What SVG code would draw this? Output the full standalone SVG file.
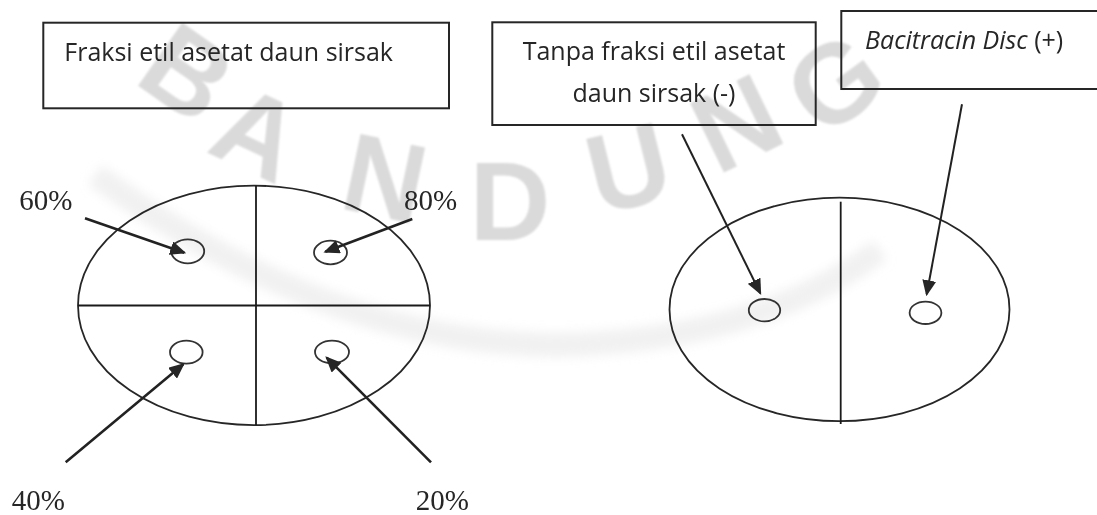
<svg xmlns="http://www.w3.org/2000/svg" width="1097" height="515" viewBox="0 0 1097 515">
  <defs>
    <style>
      .box { fill: none; stroke: #262626; stroke-width: 2; }
      .lbl { font-family: "Open Sans", "Noto Sans", sans-serif; font-size: 25px; fill: #262626; }
      .pct { font-family: "Liberation Serif", "Times New Roman", serif; font-size: 29px; fill: #262626; }
      .dish { fill: none; stroke: #262626; stroke-width: 1.8; }
      .well { fill: none; stroke: #333; stroke-width: 1.8; }
      .div { stroke: #1a1a1a; stroke-width: 1.8; }
      .arr { stroke: #222; stroke-width: 2.6; fill: none; }
      .arr2 { stroke: #222; stroke-width: 2; fill: none; }
      .wm { font-family: "Liberation Sans", Arial, sans-serif; font-size: 112px; font-weight: bold; fill: #dadada; }
    </style>
    <marker id="ah" viewBox="0 0 16 14" refX="14" refY="7" markerWidth="16" markerHeight="14" markerUnits="userSpaceOnUse" orient="auto">
      <path d="M0,0 L16,7 L0,14 z" fill="#262626"/>
    </marker>
    <filter id="blur" x="-20%" y="-20%" width="140%" height="140%">
      <feGaussianBlur stdDeviation="6"/>
    </filter>
    <filter id="soft" x="-10%" y="-10%" width="120%" height="120%">
      <feGaussianBlur stdDeviation="1.2"/>
    </filter>
  </defs>
  <rect width="1097" height="515" fill="#ffffff"/>

  <g id="watermark" filter="url(#soft)">
    <path d="M95,175 Q330,345 560,345 Q760,340 880,250" fill="none" stroke="#dcdcdc" stroke-width="24" opacity="0.4" filter="url(#blur)"/>
    <text class="wm" text-anchor="middle" transform="translate(188,72) rotate(35)" dy="40">B</text>
    <text class="wm" text-anchor="middle" transform="translate(258,132) rotate(25)" dy="40">A</text>
    <text class="wm" text-anchor="middle" transform="translate(385,177) rotate(12)" dy="40">N</text>
    <text class="wm" text-anchor="middle" transform="translate(510,200) rotate(0)" dy="40">D</text>
    <text class="wm" text-anchor="middle" transform="translate(628,167) rotate(-14)" dy="40">U</text>
    <text class="wm" text-anchor="middle" transform="translate(736,122) rotate(-26)" dy="40">N</text>
    <text class="wm" text-anchor="middle" transform="translate(834,82) rotate(-36)" dy="40">G</text>
  </g>

  <g id="box-fraksi">
    <rect class="box" x="43.3" y="22.7" width="405.7" height="85.6"/>
    <text class="lbl" x="64.3" y="60.7">Fraksi etil asetat daun sirsak</text>
  </g>
  <g id="box-tanpa">
    <rect class="box" x="492.3" y="22.3" width="323.4" height="102.7"/>
    <text class="lbl" x="654" y="60" text-anchor="middle">Tanpa fraksi etil asetat</text>
    <text class="lbl" x="654" y="101.7" text-anchor="middle">daun sirsak (-)</text>
  </g>
  <g id="box-bacitracin">
    <rect class="box" x="841.3" y="11" width="270" height="78"/>
    <text class="lbl" x="865" y="49"><tspan font-style="italic">Bacitracin Disc</tspan> (+)</text>
  </g>

  <g id="dish-left">
    <ellipse class="dish" cx="254" cy="305.4" rx="176" ry="119.7"/>
    <line class="div" x1="78" y1="305.5" x2="430" y2="305.5"/>
    <line class="div" x1="256" y1="185.7" x2="256" y2="425"/>
    <ellipse class="well" cx="187.7" cy="251.3" rx="16.5" ry="12"/>
    <ellipse class="well" cx="330.5" cy="252.5" rx="16.5" ry="11.8"/>
    <ellipse class="well" cx="186.3" cy="352.2" rx="16.3" ry="11.5"/>
    <ellipse class="well" cx="332" cy="352" rx="17" ry="11.3"/>
  </g>

  <g id="dish-right">
    <ellipse class="dish" cx="839.5" cy="309.4" rx="170" ry="111.7"/>
    <line class="div" x1="840.7" y1="201.7" x2="840.7" y2="424"/>
    <ellipse class="well" cx="764.5" cy="310.2" rx="15.7" ry="11.2"/>
    <ellipse class="well" cx="925.5" cy="312.8" rx="15.9" ry="11.2"/>
  </g>

  <g id="labels">
    <text class="pct" x="19.3" y="210">60%</text>
    <text class="pct" x="404" y="210">80%</text>
    <text class="pct" x="11.7" y="510">40%</text>
    <text class="pct" x="415.7" y="510">20%</text>
  </g>

  <g id="connectors">
    <line class="arr" x1="85" y1="218.3" x2="184.3" y2="252.7" marker-end="url(#ah)"/>
    <line class="arr" x1="412.3" y1="219" x2="325.3" y2="251.7" marker-end="url(#ah)"/>
    <line class="arr" x1="65.7" y1="462.3" x2="183.3" y2="364.3" marker-end="url(#ah)"/>
    <line class="arr" x1="431" y1="462.3" x2="326.7" y2="357.7" marker-end="url(#ah)"/>
    <line class="arr2" x1="682" y1="134.3" x2="760.3" y2="293.3" marker-end="url(#ah)"/>
    <line class="arr2" x1="962" y1="104.3" x2="926.7" y2="294.3" marker-end="url(#ah)"/>
  </g>
</svg>
